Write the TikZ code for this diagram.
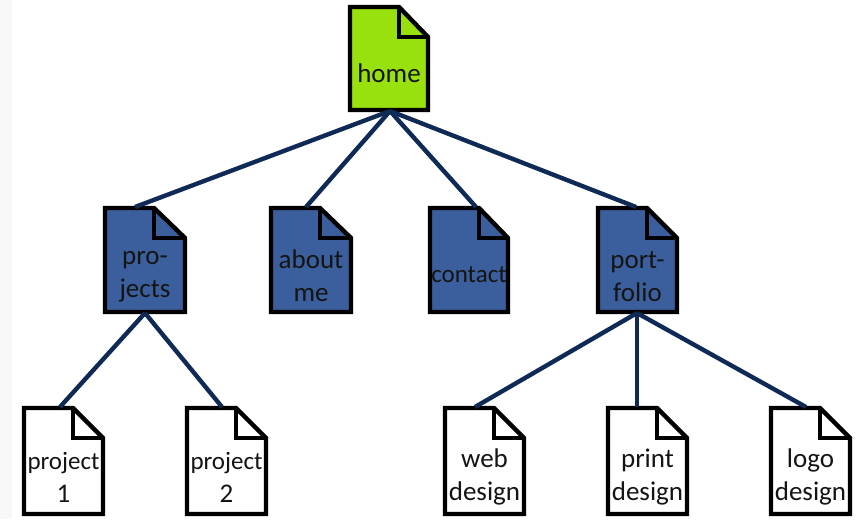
\documentclass[tikz,border=0pt]{standalone}
\usepackage{fontspec}
\setmainfont{Carlito}
\definecolor{homegreen}{HTML}{98E00E}
\definecolor{midblue}{HTML}{3B5F9C}
\definecolor{linknavy}{HTML}{0F2A55}
\definecolor{sidegrey}{HTML}{F8F8F8}
\newcommand{\narrowtext}{\fontsize{25}{33}\selectfont}
\tikzset{
  docshape/.style={draw=black,line width=4.4pt,line join=miter,miter limit=3},
  doclabel/.style={font=\fontsize{27}{33}\selectfont,align=center,text=black!92,inner sep=0pt},
  link/.style={draw=linknavy,line width=4.4pt}
}
% name, left, top, right, bottom, fill, top anchor x, bottom anchor x, label centre y, text
\newcommand{\docnode}[9]{%
  \path[docshape,fill=#6] (#2,#3) -- (#2+49,#3) -- (#4,#3+30) -- (#4,#5) -- (#2,#5) -- cycle;
  \draw[docshape] (#2+49,#3) -- (#2+49,#3+30) -- (#4,#3+30);
  \coordinate (#1-top) at (#7,#3-1);
  \coordinate (#1-bot) at (#8,#5+1);
  \node[doclabel] (#1) at ({(#2+#4)/2},#9) {\doctext};
}
\begin{document}
\begin{tikzpicture}[x=1pt,y=-1pt]
\useasboundingbox (0,0) rectangle (864,519);
\fill[sidegrey] (0,0) rectangle (12,519);
% coordinates used by connectors are created with the documents
\newcommand{\doctext}{home}\docnode{home}{350}{7}{428}{110}{homegreen}{389}{390}{73}
\renewcommand{\doctext}{pro-\\jects}\docnode{projects}{105}{208}{185}{312}{midblue}{135}{145}{277}
\renewcommand{\doctext}{about\\me}\docnode{about}{271}{208}{351}{312}{midblue}{306}{311}{276}
\renewcommand{\doctext}{\narrowtext contact}\docnode{contact}{430}{208}{508}{312}{midblue}{476}{469}{275}
\renewcommand{\doctext}{port-\\folio}\docnode{portfolio}{598}{208}{677}{312}{midblue}{636}{637}{277}
\renewcommand{\doctext}{\narrowtext project\\1}\docnode{projectone}{24}{408}{103}{514}{white}{60}{63}{477}
\renewcommand{\doctext}{\narrowtext project\\2}\docnode{projecttwo}{187}{408}{266}{514}{white}{222}{226}{477}
\renewcommand{\doctext}{web\\design}\docnode{web}{445}{408}{524}{514}{white}{475}{484}{477}
\renewcommand{\doctext}{print\\design}\docnode{print}{608}{408}{687}{514}{white}{637}{647}{477}
\renewcommand{\doctext}{logo\\design}\docnode{logo}{771}{408}{850}{514}{white}{806}{810}{477}
\draw[link] (home-bot) -- (projects-top);
\draw[link] (home-bot) -- (about-top);
\draw[link] (home-bot) -- (contact-top);
\draw[link] (home-bot) -- (portfolio-top);
\draw[link] (projects-bot) -- (projectone-top);
\draw[link] (projects-bot) -- (projecttwo-top);
\draw[link] (portfolio-bot) -- (web-top);
\draw[link] (portfolio-bot) -- (print-top);
\draw[link] (portfolio-bot) -- (logo-top);
\end{tikzpicture}
\end{document}
